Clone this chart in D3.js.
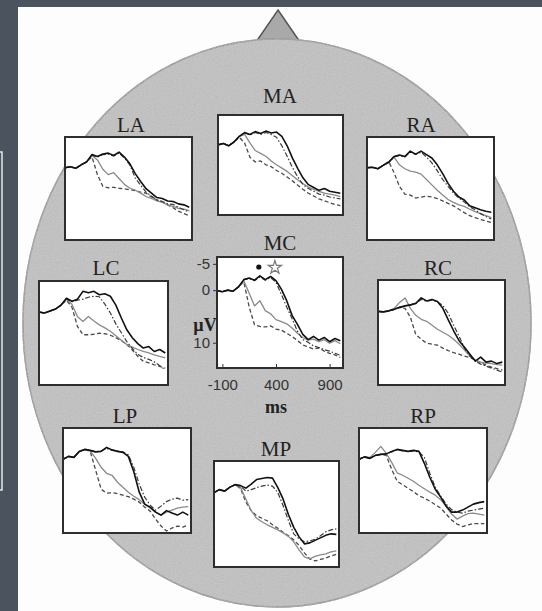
<!DOCTYPE html>
<html>
<head>
<meta charset="utf-8">
<script src="https://cdn.jsdelivr.net/npm/d3@7"></script>
<style>
  body { margin: 0; background: #4b545e; }
  svg { display: block; }
</style>
</head>
<body>
<svg id="chart"></svg>
<script>
// sample times (ms) shared by every trace
var times = [-150, -100, -50, 0, 50, 100, 150, 200, 250, 300, 350, 400, 450, 500, 550, 600, 650, 700, 750, 800, 850, 900, 950, 1000];

// electrode sites
var sites = ["LA", "MA", "RA", "LC", "MC", "RC", "LP", "MP", "RP"];

// µV values, negative up (4 conditions per site)
var laSolid   = [0, -0.2, 0.1, -0.6, -1.2, -2.7, -2.3, -2.8, -3.0, -2.5, -3.2, -2.2, -0.8, 1.2, 2.8, 4.3, 5.2, 6.1, 6.3, 6.8, 6.9, 7.4, 7.6, 8.1];
var laDashDot = [0, -0.2, 0.1, -0.6, -1.2, -2.6, -2.2, -2.7, -2.8, -2.4, -3.0, -2.0, -0.6, 2.1, 3.6, 5.0, 5.8, 6.6, 6.9, 7.4, 7.5, 8.1, 8.6, 9.1];
var laGray    = [0, -0.2, 0.1, -0.6, -1.2, -2.5, -1.6, 0.3, 1.4, 1.0, 2.2, 3.4, 4.2, 4.6, 5.2, 5.9, 6.3, 6.8, 7.1, 7.6, 7.9, 8.3, 8.5, 8.8];
var laDashed  = [0, -0.2, 0.1, -0.6, -1.2, -2.2, 1.4, 3.8, 4.1, 4.0, 4.2, 4.3, 4.5, 4.7, 5.0, 5.2, 6.0, 6.6, 7.0, 7.6, 8.2, 8.9, 9.4, 9.8];

var maSolid   = [0, -0.3, 0.2, -0.6, -1.8, -2.6, -2.2, -2.8, -2.4, -2.9, -2.5, -2.7, -1.8, 0.2, 2.8, 5.0, 7.0, 8.4, 9.0, 9.6, 9.2, 9.8, 10.0, 10.2];
var maDashDot = [0, -0.3, 0.2, -0.6, -1.8, -2.5, -2.1, -2.6, -2.2, -2.6, -2.2, -1.6, 0.2, 2.4, 4.8, 6.8, 8.4, 9.2, 9.8, 10.4, 10.6, 11.0, 11.2, 11.4];
var maGray    = [0, -0.3, 0.2, -0.6, -1.8, -2.2, -0.4, 1.2, 1.8, 2.4, 3.4, 4.2, 4.9, 5.6, 6.5, 7.4, 8.2, 8.9, 9.4, 9.8, 10.2, 10.4, 10.6, 10.9];
var maDashed  = [0, -0.3, 0.2, -0.6, -1.6, -0.4, 2.6, 3.6, 3.4, 4.2, 4.6, 5.4, 6.0, 6.8, 7.6, 8.5, 9.4, 10.2, 10.8, 11.4, 11.8, 12.2, 12.6, 12.8];

var raSolid   = [0, -0.1, 0.2, -0.5, -1.1, -2.3, -2.6, -2.3, -3.4, -2.8, -3.4, -2.7, -2.0, -0.6, 1.2, 3.2, 4.8, 6.0, 6.6, 7.8, 8.2, 8.6, 8.9, 9.1];
var raDashDot = [0, -0.1, 0.2, -0.5, -1.1, -2.2, -2.5, -2.2, -3.2, -2.7, -3.2, -2.2, -1.0, 0.6, 2.4, 3.8, 5.2, 6.2, 7.0, 8.0, 8.6, 9.4, 10.0, 10.5];
var raGray    = [0, -0.1, 0.2, -0.5, -1.1, -2.2, -0.6, 0.2, 0.7, 0.9, 1.3, 2.4, 3.5, 4.6, 5.6, 6.5, 7.1, 7.6, 7.9, 8.5, 9.0, 9.4, 9.8, 10.2];
var raDashed  = [0, -0.1, 0.2, -0.5, -1.3, 1.0, 3.8, 5.4, 5.6, 6.2, 6.0, 5.8, 6.0, 6.3, 6.8, 7.3, 7.8, 8.5, 9.2, 9.8, 10.2, 10.6, 10.9, 11.2];

var lcSolid   = [0, 0.2, -0.2, -0.6, -1.4, -2.8, -2.2, -2.6, -4.2, -3.9, -4.2, -3.5, -3.7, -3.2, -1.4, 1.2, 3.6, 5.2, 6.4, 7.3, 7.0, 8.0, 7.6, 8.3];
var lcDashDot = [0, 0.2, -0.2, -0.6, -1.4, -2.7, -2.1, -2.4, -2.6, -3.0, -3.2, -3.1, -1.6, 0.2, 2.4, 4.2, 6.0, 7.4, 8.6, 9.2, 9.6, 10.1, 10.9, 11.7];
var lcGray    = [0, 0.2, -0.2, -0.6, -1.4, -2.6, -1.6, 0.9, 1.9, 0.9, 1.8, 2.6, 3.2, 3.9, 4.8, 5.7, 6.6, 7.1, 7.6, 8.0, 8.3, 8.7, 9.0, 9.3];
var lcDashed  = [0, 0.2, -0.2, -0.6, -1.4, -2.4, -1.0, 2.9, 4.6, 4.6, 4.5, 4.3, 4.4, 4.7, 5.2, 5.8, 6.6, 7.7, 9.0, 10.0, 10.3, 10.7, 11.0, 11.4];

var mcSolid   = [0.1, 0.3, 0, 0.2, -0.6, -2.0, -2.3, -1.9, -2.7, -2.0, -2.6, -1.8, -0.2, 2.0, 4.8, 6.5, 8.4, 9.4, 8.8, 9.5, 9.0, 9.8, 9.2, 9.6];
var mcDashDot = [0.1, 0.3, 0, 0.2, -0.6, -2.0, -2.2, -1.8, -2.5, -1.9, -2.4, -1.5, 0.8, 3.2, 5.4, 7.8, 9.4, 9.9, 10.6, 10.9, 11.3, 11.6, 12.0, 12.4];
var mcGray    = [0.1, 0.3, 0, 0.2, -0.6, -1.8, 0.6, 3.0, 2.0, 3.9, 4.5, 5.6, 6.0, 6.4, 7.2, 8.2, 9.0, 9.5, 9.3, 9.8, 9.4, 10.1, 9.6, 10.2];
var mcDashed  = [0.1, 0.3, 0, 0.2, -0.6, -1.6, 3.2, 6.6, 6.9, 7.0, 6.8, 7.4, 7.6, 8.2, 8.8, 9.6, 10.4, 10.8, 11.2, 11.0, 11.6, 12.0, 12.3, 12.8];

var rcSolid   = [0, 0.1, -0.1, -0.4, -0.8, -1.1, -1.3, -1.6, -2.7, -2.1, -2.4, -2.0, -0.6, 1.7, 3.9, 5.9, 7.2, 8.6, 10.0, 9.2, 10.2, 10.0, 10.5, 10.2];
var rcDashDot = [0, 0.1, -0.1, -0.4, -0.8, -1.1, -1.3, -1.6, -2.4, -2.0, -2.3, -1.9, -1.2, 0.4, 2.8, 5.0, 7.4, 9.0, 10.0, 10.6, 11.0, 11.4, 11.8, 12.2];
var rcGray    = [0, 0.1, -0.1, -0.6, -1.8, -2.7, -0.6, 0.8, 1.6, 2.0, 2.8, 3.6, 4.2, 4.8, 5.6, 6.6, 7.8, 9.0, 9.8, 10.2, 10.4, 10.5, 10.7, 10.8];
var rcDashed  = [0, 0.1, -0.1, -0.4, -0.8, -0.6, 1.2, 4.7, 5.6, 6.4, 6.6, 6.8, 7.4, 7.9, 8.3, 8.6, 9.0, 9.3, 9.8, 10.3, 10.8, 11.2, 11.5, 11.8];

var lpSolid   = [0, -0.6, -0.4, -1.6, -2.0, -1.8, -1.5, -1.6, -2.4, -1.9, -1.6, -1.4, -0.6, 2.5, 6.6, 9.0, 9.6, 10.6, 11.2, 10.3, 10.8, 11.2, 10.6, 11.2];
var lpDashDot = [0, -0.6, -0.4, -1.6, -2.0, -1.8, -1.5, -1.7, -2.2, -1.8, -1.7, -1.5, -0.9, 1.6, 5.0, 7.6, 9.2, 10.2, 9.4, 8.5, 8.0, 7.8, 8.2, 8.1];
var lpGray    = [0, -0.6, -0.4, -1.6, -2.0, -1.7, -0.2, 1.6, 2.8, 3.2, 4.6, 5.6, 6.6, 7.4, 8.1, 9.0, 9.8, 10.6, 11.2, 10.6, 10.2, 9.8, 9.6, 9.5];
var lpDashed  = [0, -0.6, -0.4, -1.6, -2.0, -1.6, 2.2, 6.0, 6.8, 6.7, 6.9, 7.2, 7.5, 8.0, 8.6, 9.6, 10.4, 12.0, 13.4, 14.4, 13.8, 13.4, 13.6, 13.2];

var mpSolid   = [0, -0.6, -0.3, -1.1, -1.6, -1.4, -0.9, -1.7, -2.6, -2.8, -3.0, -2.9, -1.0, 1.3, 4.4, 6.9, 8.8, 10.2, 10.0, 9.5, 9.0, 8.5, 8.2, 8.3];
var mpDashDot = [0, -0.6, -0.3, -1.1, -1.6, -1.3, -0.3, -0.6, -1.0, -1.3, -1.5, -1.3, 0.0, 2.6, 5.6, 8.2, 9.2, 9.8, 9.6, 9.3, 8.6, 7.8, 7.4, 7.2];
var mpGray    = [0, -0.6, -0.3, -1.1, -1.6, -1.0, 1.3, 3.6, 5.1, 5.8, 6.4, 6.9, 7.4, 8.0, 8.7, 9.8, 11.4, 12.8, 13.2, 12.7, 12.4, 12.2, 11.8, 11.6];
var mpDashed  = [0, -0.6, -0.3, -1.1, -1.6, -0.8, 1.9, 3.6, 4.6, 5.1, 5.6, 6.4, 7.1, 7.9, 8.6, 9.4, 10.5, 12.0, 13.2, 13.6, 13.3, 13.0, 12.6, 12.3];

var rpSolid   = [0, -0.5, -0.2, -0.8, -1.0, -1.1, -1.6, -2.0, -1.8, -1.6, -1.8, -1.6, 0.8, 3.6, 6.0, 7.6, 9.4, 10.6, 10.6, 10.2, 9.6, 9.0, 8.7, 8.5];
var rpDashDot = [0, -0.5, -0.2, -0.8, -1.0, -1.1, -1.5, -1.9, -1.7, -1.6, -1.7, -1.5, -0.4, 2.8, 5.6, 7.4, 9.0, 10.1, 10.6, 10.8, 10.4, 10.2, 10.0, 9.8];
var rpGray    = [0, -0.5, -0.4, -1.4, -2.6, -1.2, 0.6, 2.7, 3.2, 3.8, 4.4, 5.2, 5.9, 6.6, 7.2, 8.1, 9.5, 11.0, 12.0, 11.4, 10.9, 10.8, 11.0, 11.2];
var rpDashed  = [0, -0.5, -0.2, -0.8, -1.0, -0.8, 2.0, 4.4, 5.1, 5.8, 6.5, 7.3, 7.8, 8.4, 9.1, 9.8, 11.0, 12.2, 13.0, 13.5, 13.2, 12.9, 12.9, 12.9];

// MC axis ticks
var xTicks = [-100, 400, 900];
var yTicks = [-5, 0, 10];

// significance markers on MC (time ms, µV)
var markers = [{t: 240, v: -4.4, kind: "dot"}, {t: 390, v: -4.3, kind: "star"}];

var siteData = {
  LA: [laDashed, laGray, laDashDot, laSolid],
  MA: [maDashed, maGray, maDashDot, maSolid],
  RA: [raDashed, raGray, raDashDot, raSolid],
  LC: [lcDashed, lcGray, lcDashDot, lcSolid],
  MC: [mcDashed, mcGray, mcDashDot, mcSolid],
  RC: [rcDashed, rcGray, rcDashDot, rcSolid],
  LP: [lpDashed, lpGray, lpDashDot, lpSolid],
  MP: [mpDashed, mpGray, mpDashDot, mpSolid],
  RP: [rpDashed, rpGray, rpDashDot, rpSolid]
};

// line styles, same order as above
var styles = [
  {stroke: "#4a4a4a", width: 1.3, dash: "4,2.5"},
  {stroke: "#8a8a8a", width: 1.3, dash: null},
  {stroke: "#3c3c3c", width: 1.2, dash: "5,2,1.5,2"},
  {stroke: "#111", width: 1.6, dash: null}
];

// box layout on the head
var layout = {
  LA: {x: 65,  y: 137, w: 127, h: 103, lx: 131, ly: 132},
  MA: {x: 218, y: 115, w: 125, h: 100, lx: 280, ly: 103},
  RA: {x: 367, y: 137, w: 127, h: 103, lx: 421, ly: 132},
  LC: {x: 39,  y: 281, w: 129, h: 104, lx: 106, ly: 275},
  MC: {x: 217, y: 257, w: 126, h: 111, lx: 280, ly: 250},
  RC: {x: 378, y: 280, w: 127, h: 105, lx: 438, ly: 275},
  LP: {x: 63,  y: 428, w: 128, h: 105, lx: 125, ly: 423},
  MP: {x: 214, y: 461, w: 125, h: 106, lx: 276, ly: 456},
  RP: {x: 359, y: 428, w: 128, h: 105, lx: 423, ly: 423}
};

var width = 542, height = 611;

var svg = d3.select("#chart")
  .attr("width", width)
  .attr("height", height);

// grain for the head
var defs = svg.append("defs");
var f = defs.append("filter").attr("id", "grain");
f.append("feTurbulence").attr("type", "fractalNoise").attr("baseFrequency", 0.9).attr("numOctaves", 2).attr("result", "n");
f.append("feColorMatrix").attr("in", "n").attr("type", "matrix")
  .attr("values", "0 0 0 0 0.66  0 0 0 0 0.66  0 0 0 0 0.66  0 0 0 0.5 0.25").attr("result", "c");
f.append("feComposite").attr("in", "c").attr("in2", "SourceGraphic").attr("operator", "in").attr("result", "g");
f.append("feMerge").call(function(m) {
  m.append("feMergeNode").attr("in", "SourceGraphic");
  m.append("feMergeNode").attr("in", "g");
});

// white page
svg.append("rect")
  .attr("x", 18).attr("y", 7)
  .attr("width", width - 18).attr("height", height - 7)
  .attr("fill", "#fdfdfd");

// thin white bracket on the left strip
svg.append("path")
  .attr("d", "M0,152 H2 V490 H0")
  .attr("fill", "none")
  .attr("stroke", "#e8e8e8")
  .attr("stroke-width", 1.5);

// nose
svg.append("path")
  .attr("d", "M278,10 L300,42 L256,42 Z")
  .attr("fill", "#a9a9a9")
  .attr("stroke", "#555")
  .attr("stroke-width", 1.5);

// head
svg.append("ellipse")
  .attr("cx", 277).attr("cy", 323)
  .attr("rx", 254).attr("ry", 284)
  .attr("fill", "#ababab")
  .attr("stroke", "#555")
  .attr("stroke-width", 1.5)
  .attr("filter", "url(#grain)");

sites.forEach(function(site) {
  var b = layout[site];

  var x = d3.scaleLinear().domain([-150, 1025]).range([b.x, b.x + b.w]);
  var y = d3.scaleLinear().domain([-6.3, 14.8]).range([b.y, b.y + b.h]);

  var g = svg.append("g").attr("class", "site");

  g.append("rect")
    .attr("x", b.x).attr("y", b.y)
    .attr("width", b.w).attr("height", b.h)
    .attr("fill", "#fff");

  var line = d3.line()
    .x(function(d, i) { return x(times[i]); })
    .y(function(d) { return y(d); });

  siteData[site].forEach(function(values, k) {
    var s = styles[k];
    g.append("path")
      .datum(values)
      .attr("d", line)
      .attr("fill", "none")
      .attr("stroke", s.stroke)
      .attr("stroke-width", s.width)
      .attr("stroke-dasharray", s.dash)
      .attr("stroke-linejoin", "round");
  });

  g.append("rect")
    .attr("x", b.x).attr("y", b.y)
    .attr("width", b.w).attr("height", b.h)
    .attr("fill", "none")
    .attr("stroke", "#2e2e2e")
    .attr("stroke-width", 2);

  g.append("text")
    .attr("x", b.lx).attr("y", b.ly)
    .attr("text-anchor", "middle")
    .attr("font-family", "Liberation Serif, Times New Roman, serif")
    .attr("font-size", 21)
    .attr("fill", "#222")
    .text(site);

  if (site === "MC") {
    var fmt = function(d) { return String(d); };
    var axB = g.append("g")
      .attr("transform", "translate(0," + (b.y + b.h) + ")")
      .call(d3.axisBottom(x).tickValues(xTicks).tickSize(4).tickPadding(7).tickFormat(fmt));
    var axL = g.append("g")
      .attr("transform", "translate(" + b.x + ",0)")
      .call(d3.axisLeft(y).tickValues(yTicks).tickSize(4).tickPadding(3).tickFormat(fmt));
    [axB, axL].forEach(function(a) {
      a.select(".domain").remove();
      a.selectAll("line").attr("stroke", "#333");
      a.selectAll("text")
        .attr("font-family", "Liberation Sans, Arial, sans-serif")
        .attr("font-size", 15)
        .attr("fill", "#333");
    });
    axB.selectAll("line").attr("y1", -4).attr("y2", 0);

    g.append("text")
      .attr("x", x(400)).attr("y", b.y + b.h + 45)
      .attr("text-anchor", "middle")
      .attr("font-family", "Liberation Serif, serif")
      .attr("font-weight", "bold")
      .attr("font-size", 18)
      .attr("fill", "#222")
      .text("ms");

    g.append("text")
      .attr("x", b.x - 12).attr("y", b.y + 74)
      .attr("text-anchor", "middle")
      .attr("font-family", "Liberation Serif, serif")
      .attr("font-weight", "bold")
      .attr("font-size", 18)
      .attr("fill", "#222")
      .text("µV");

    markers.forEach(function(m) {
      if (m.kind === "dot") {
        g.append("circle")
          .attr("cx", x(m.t)).attr("cy", y(m.v))
          .attr("r", 2.6).attr("fill", "#111");
      } else {
        g.append("path")
          .attr("d", d3.symbol().type(d3.symbolStar).size(55)())
          .attr("transform", "translate(" + x(m.t) + "," + y(m.v) + ")")
          .attr("fill", "none")
          .attr("stroke", "#777")
          .attr("stroke-width", 1.2);
      }
    });
  }
});
</script>
</body>
</html>
